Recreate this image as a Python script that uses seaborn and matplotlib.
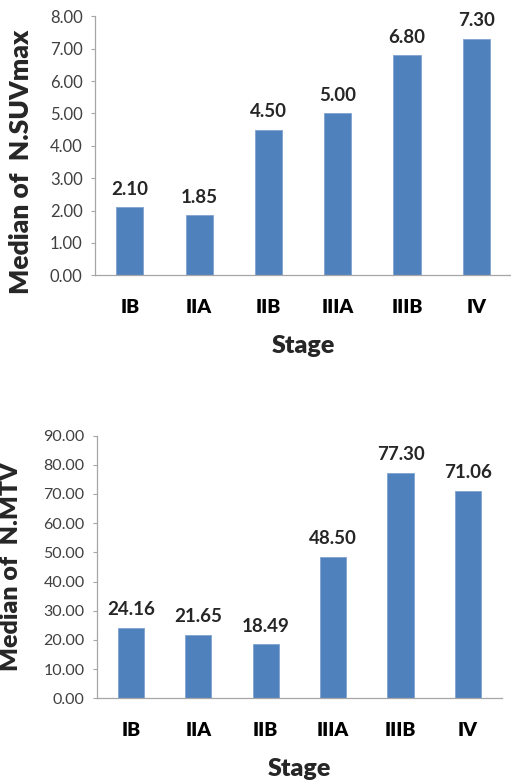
import matplotlib
matplotlib.use("Agg")
import matplotlib.pyplot as plt
import seaborn as sns
import numpy as np

stages = ["IB", "IIA", "IIB", "IIIA", "IIIB", "IV"]
suv_median = [2.10, 1.85, 4.50, 5.00, 6.80, 7.30]
mtv_median = [24.16, 21.65, 18.49, 48.50, 77.30, 71.06]

sns.set_style("white")
plt.rcParams["font.family"] = ["Lato", "DejaVu Sans"]

bar_color = "#4F81BD"
axis_gray = "#A6A6A6"
tick_gray = "#404040"


def draw_panel(ax, values, ymax, ylabel, label_xy, label_size, tick_size):
    sns.barplot(x=stages, y=values, color=bar_color, width=0.39,
                edgecolor="#7FA3D0", linewidth=0.6, saturation=1, ax=ax)
    ax.set_xlim(-0.5, len(stages) - 0.5)
    ax.set_ylim(0, ymax)
    ax.set_yticks(np.arange(0, ymax + 0.001, ymax / (8 if ymax < 10 else 9)))
    ax.yaxis.set_major_formatter(matplotlib.ticker.FormatStrFormatter("%.2f"))
    ax.set_xticks(np.arange(-0.5, len(stages)), minor=True)
    ax.tick_params(axis="x", which="major", length=0, pad=17,
                   labelsize=14, labelcolor="black")
    ax.tick_params(axis="x", which="minor", length=6, color=axis_gray,
                   direction="out", width=0.8)
    ax.tick_params(axis="y", length=3, color=axis_gray, width=0.8,
                   direction="out", pad=6, labelsize=tick_size,
                   labelcolor=tick_gray)
    ax.tick_params(axis="y", left=True)
    for lbl in ax.get_xticklabels():
        lbl.set_fontweight("heavy")
    for s in ["top", "right"]:
        ax.spines[s].set_visible(False)
    for s in ["left", "bottom"]:
        ax.spines[s].set_color(axis_gray)
        ax.spines[s].set_linewidth(0.9)
    ax.bar_label(ax.containers[0], fmt="%.2f", padding=7,
                 fontsize=13.5, fontweight="bold")
    ax.set_xlabel("Stage", fontsize=18, fontweight="heavy", labelpad=14)
    ax.set_ylabel(ylabel, fontsize=label_size, fontweight="heavy")
    ax.yaxis.set_label_coords(*label_xy)


fig = plt.figure(figsize=(5.11, 7.82), dpi=100)
ax1 = fig.add_axes([0.186, 0.648, 0.814, 0.331])
ax2 = fig.add_axes([0.19, 0.107, 0.792, 0.336])

draw_panel(ax1, suv_median, 8, "Median of  N.SUVmax", (-0.15, 0.44), 19, 12)
draw_panel(ax2, mtv_median, 90, "Median of  N.MTV", (-0.185, 0.5), 18, 11.5)

fig.savefig("out.png", dpi=100)
